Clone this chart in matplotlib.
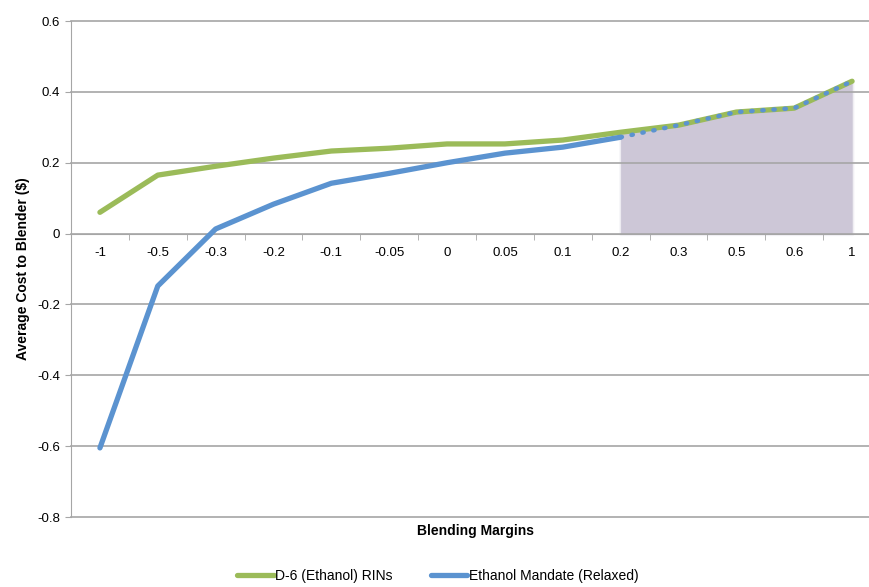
import matplotlib.pyplot as plt
import numpy as np

margins = ["-1", "-0.5", "-0.3", "-0.2", "-0.1", "-0.05", "0", "0.05", "0.1",
           "0.2", "0.3", "0.5", "0.6", "1"]
rins = [0.06, 0.165, 0.19, 0.213, 0.233, 0.241, 0.253, 0.253, 0.264,
        0.286, 0.306, 0.343, 0.354, 0.43]
mandate = [-0.605, -0.148, 0.013, 0.083, 0.142, 0.17, 0.2, 0.227, 0.244,
           0.272, 0.306, 0.343, 0.354, 0.43]
shade_from = 9  # "0.2" onwards

green = "#9bbb59"
blue = "#5b93d0"
grid_col = "#a6a6a6"

plt.rcParams["font.family"] = ["Liberation Sans", "DejaVu Sans"]

fig = plt.figure(figsize=(8.7, 5.87), dpi=100)
ax = fig.add_axes([71 / 870, 1 - 517 / 587, 810 / 870, 496 / 587])

x = np.arange(len(margins))

# shaded region under the upper part of the curve
xs = x[shade_from:]
ys = np.array(rins[shade_from:])
ax.fill_between(xs, 0, ys, color="#cdc7d7", lw=0, zorder=0.3)
for w, a in [(3, 0.15), (1.5, 0.25)]:
    ax.fill_between(xs, 0, ys, color="#cdc7d7", lw=w, edgecolor="#cdc7d7",
                    alpha=a, zorder=0.2)

ax.plot(x, rins, color=green, lw=3.8, solid_capstyle="round", zorder=3,
        label="D-6 (Ethanol) RINs")
ax.plot(x[:shade_from + 1], mandate[:shade_from + 1], color=blue, lw=3.8,
        solid_capstyle="round", zorder=4, label="Ethanol Mandate (Relaxed)")
ax.plot(x[shade_from:], mandate[shade_from:], color=blue, lw=3.2,
        ls=(0, (0.3, 2.2)), dash_capstyle="round", zorder=4)

ax.set_xlim(-0.5, len(margins) - 0.5)
ax.set_ylim(-0.8, 0.6)
ax.set_yticks(np.arange(-0.8, 0.61, 0.2))
ax.set_yticklabels(["-0.8", "-0.6", "-0.4", "-0.2", "0", "0.2", "0.4", "0.6"])
ax.yaxis.grid(True, color=grid_col, lw=1.2)
for gl in ax.get_ygridlines():
    gl.set_clip_on(False)
ax.set_axisbelow(True)

ax.set_xticks(x)
ax.set_xticklabels(margins)
ax.set_xticks(np.arange(0.5, len(margins) - 0.5), minor=True)
ax.tick_params(axis="x", which="major", length=0, pad=10, labelsize=9.5)
ax.tick_params(axis="x", which="minor", length=4, color=grid_col, direction="out")
ax.tick_params(axis="y", length=4, color=grid_col, labelsize=9.5, pad=4)

for s in ["top", "right"]:
    ax.spines[s].set_visible(False)
ax.spines["bottom"].set_position(("data", 0))
ax.spines["bottom"].set_color(grid_col)
ax.spines["left"].set_color(grid_col)

ax.set_ylabel("Average Cost to Blender ($)", fontsize=10, fontweight="bold",
              labelpad=5)
fig.text(476 / 870, 1 - 531 / 587, "Blending Margins", fontsize=10,
         fontweight="bold", ha="center", va="center")

fig.legend(loc="center", bbox_to_anchor=(438 / 870, 1 - 576 / 587), ncol=2,
           frameon=False, fontsize=10, handlelength=2.6, handletextpad=0.1,
           columnspacing=2.8)

fig.savefig("out.png", dpi=100)
